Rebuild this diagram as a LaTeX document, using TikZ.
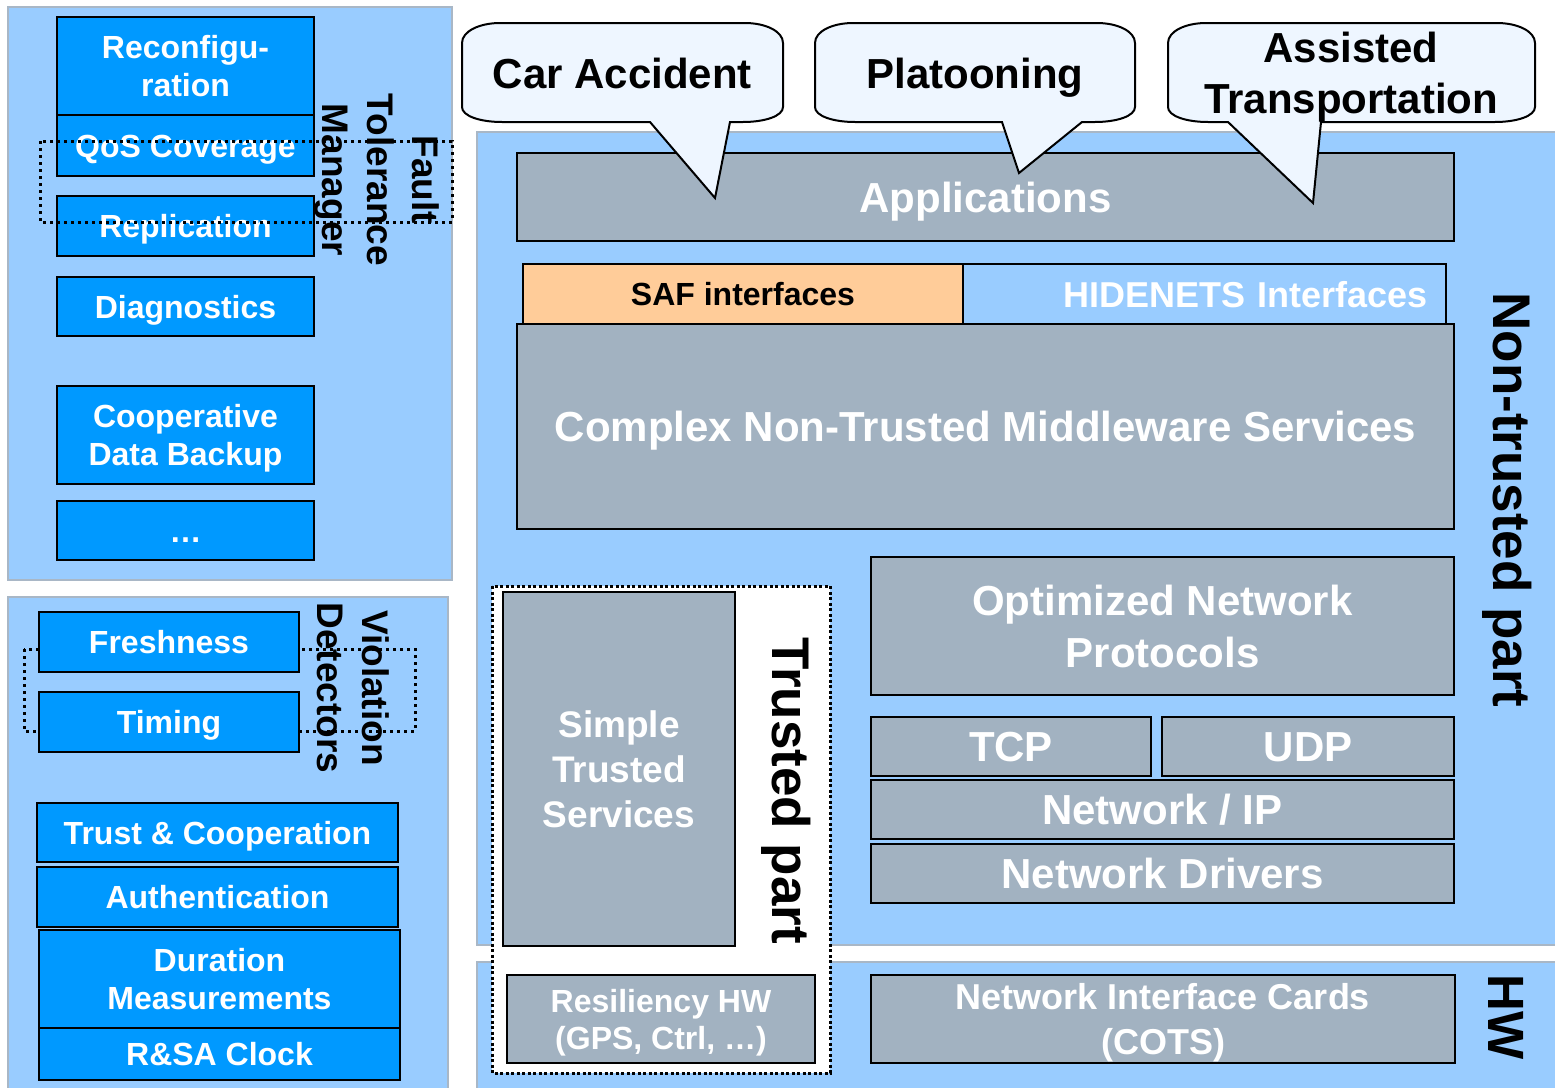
\documentclass[tikz,border=0pt]{standalone}
\usepackage{fontspec}
\setmainfont{Liberation Sans}

\definecolor{panelblue}{HTML}{99CCFF}
\definecolor{boxblue}{HTML}{0099FF}
\definecolor{slate}{HTML}{A2B2C1}
\definecolor{bubblefill}{HTML}{EEF6FF}
\definecolor{saforange}{HTML}{FFCC99}
\definecolor{panelline}{HTML}{A9B7C6}

\newcommand\fsz[2]{\fontsize{#1}{#2}\selectfont\bfseries}

% speech bubble: left, right, top, bottom, tail base left, tail base right, tip x, tip y
\newcommand\speechbubble[8]{%
  \draw[bubbleshape] (#1,#3+20) -- (#1,#4-15)
    .. controls (#1,#4-6) and (#1+18,#4) .. (#1+40,#4) -- (#5,#4) -- (#7,#8) -- (#6,#4)
    -- (#2-40,#4) .. controls (#2-18,#4) and (#2,#4-6) .. (#2,#4-15)
    -- (#2,#3+20) .. controls (#2,#3+8) and (#2-18,#3) .. (#2-38,#3)
    -- (#1+38,#3) .. controls (#1+18,#3) and (#1,#3+8) .. (#1,#3+20) -- cycle;}

\tikzset{
  panel/.style={draw=panelline, line width=2pt, fill=panelblue},
  bluebox/.style={draw=black, line width=2.5pt, fill=boxblue, text=white,
    font=\fsz{32}{38}, align=center, inner sep=0pt},
  greybox/.style={draw=black, line width=2.5pt, fill=slate, text=white,
    font=\fsz{42}{52}, align=center, inner sep=0pt},
  oneline/.style={text height=#1, text depth=0pt},
  lastline/.style={text depth=0pt},
  ftdots/.style={draw=black, line width=3pt, dash pattern=on 3pt off 4pt},
  trustdots/.style={draw=black, fill=white, line width=3pt, dash pattern=on 3pt off 2.5pt},
  bubbleshape/.style={draw=black, line width=2pt, fill=bubblefill, line join=miter},
  bubbletext/.style={font=\fsz{42}{51}, text=black, align=center, inner sep=0pt},
  sidelabel/.style={rotate=-90, text=black, align=center, inner sep=0pt},
}

\begin{document}
\begin{tikzpicture}[x=1pt,y=-1pt]
\useasboundingbox (0,0) rectangle (1555,1087);
\fill[white] (0,0) rectangle (1555,1087);

% ---------- background panels ----------
\draw[panel] (8,7) rectangle (452,580);
\draw[panel] (8,597) rectangle (448,1100);
\draw[panel] (477,132) rectangle (1570,945);
\draw[panel] (477,962) rectangle (1570,1100);

% ---------- fault tolerance column ----------
\node[bluebox, minimum width=257pt, minimum height=98pt] (reconf) at (185.5,66) {Reconfigu-\\ration};
\node[bluebox, oneline=23pt, minimum width=257pt, minimum height=61pt] (qos) at (185.5,145.5) {QoS Coverage};
\node[bluebox, oneline=23pt, minimum width=257pt, minimum height=60pt] (repl) at (185.5,226) {Replication};
\node[bluebox, oneline=23pt, minimum width=257pt, minimum height=59pt] (diag) at (185.5,306.5) {Diagnostics};
\node[bluebox, lastline, minimum width=257pt, minimum height=98pt] (coop) at (185.5,435) {Cooperative\\Data Backup};
\node[bluebox, oneline=23pt, minimum width=257pt, minimum height=59pt] (more) at (185.5,530.5) {…};

\draw[ftdots] (40,141) rectangle (452,222);
\node[sidelabel, font=\fsz{37}{45}] (ftm) at (377,180) {Fault\\Tolerance\\Manager};

% ---------- violation detectors and trusted services ----------
\draw[ftdots] (24,649) rectangle (415,731);
\node[bluebox, oneline=23pt, minimum width=260pt, minimum height=60pt] (fresh) at (169,642) {Freshness};
\node[bluebox, oneline=23pt, minimum width=260pt, minimum height=60pt] (timing) at (169,722) {Timing};
\node[sidelabel, font=\fsz{37}{45}] (vd) at (353,688) {Violation\\Detectors};

\node[bluebox, oneline=23pt, minimum width=361pt, minimum height=59pt] (trust) at (217.5,832.5) {Trust \& Cooperation};
\node[bluebox, oneline=23pt, minimum width=361pt, minimum height=60pt] (auth) at (217.5,897) {Authentication};
\node[bluebox, minimum width=361pt, minimum height=98pt] (dur) at (219.5,979) {Duration\\Measurements};
\node[bluebox, oneline=23pt, minimum width=361pt, minimum height=52pt] (clock) at (219.5,1054) {R\&SA Clock};

% ---------- trusted part ----------
\draw[trustdots] (492,586) rectangle (830,1073);
\node[greybox, font=\fsz{37}{45}, minimum width=232pt, minimum height=354pt] (simple) at (619,769) {Simple\\Trusted\\Services};
\node[greybox, lastline, font=\fsz{32}{37}, minimum width=308pt, minimum height=88pt] (reshw) at (661,1019) {Resiliency HW\\(GPS, Ctrl, …)};
\node[sidelabel, font=\fsz{53}{60}, anchor=base] (trustedpart) at (772,791) {Trusted part};

% ---------- non-trusted stack ----------
\node[greybox, oneline=30pt, minimum width=937pt, minimum height=88pt] (apps) at (985.5,197) {Applications};
\node[draw=black, line width=2.5pt, fill=panelblue, text=white, font=\fsz{36}{42}, oneline=26pt,
      text width=447pt, align=right, inner xsep=18pt, inner ysep=0pt, minimum height=60pt] (hid) at (1204.5,294) {HIDENETS Interfaces};
\node[draw=black, line width=2.5pt, fill=saforange, text=black, font=\fsz{32}{38}, oneline=23pt,
      inner sep=0pt, minimum width=440pt, minimum height=60pt] (saf) at (743,294) {SAF interfaces};
\node[greybox, oneline=30pt, minimum width=937pt, minimum height=205pt] (complex) at (985.5,426.5) {Complex Non-Trusted Middleware Services};

\node[greybox, minimum width=583pt, minimum height=138pt] (opt) at (1162.5,626) {Optimized Network\\Protocols};
\node[greybox, oneline=30pt, minimum width=280pt, minimum height=59pt] (tcp) at (1011,746.5) {TCP};
\node[greybox, oneline=30pt, minimum width=292pt, minimum height=59pt] (udp) at (1308,746.5) {UDP};
\node[greybox, oneline=30pt, minimum width=583pt, minimum height=59pt] (netip) at (1162.5,809.5) {Network / IP};
\node[greybox, oneline=30pt, minimum width=583pt, minimum height=59pt] (drivers) at (1162.5,873.5) {Network Drivers};

\node[greybox, lastline, font=\fsz{36}{45}, minimum width=584pt, minimum height=88pt] (nic) at (1163,1019) {Network Interface Cards\\(COTS)};

\node[sidelabel, font=\fsz{53}{60}, anchor=base] (nontrusted) at (1493,500) {Non-trusted part};
\node[sidelabel, font=\fsz{51}{60}, anchor=base] (hw) at (1488,1017) {HW};

% ---------- application scenarios ----------
\speechbubble{462}{783}{23}{122}{650}{730}{715}{198}
\speechbubble{815}{1135}{23}{122}{1002}{1082}{1019}{173}
\speechbubble{1168}{1535}{23}{122}{1228}{1321}{1313}{203}
\node[bubbletext, anchor=base] (car) at (622.5,88) {Car Accident};
\node[bubbletext, anchor=base] (platoon) at (975,88) {Platooning};
\node[bubbletext] (assist) at (1351,77) {Assisted\\Transportation};

\end{tikzpicture}
\end{document}
